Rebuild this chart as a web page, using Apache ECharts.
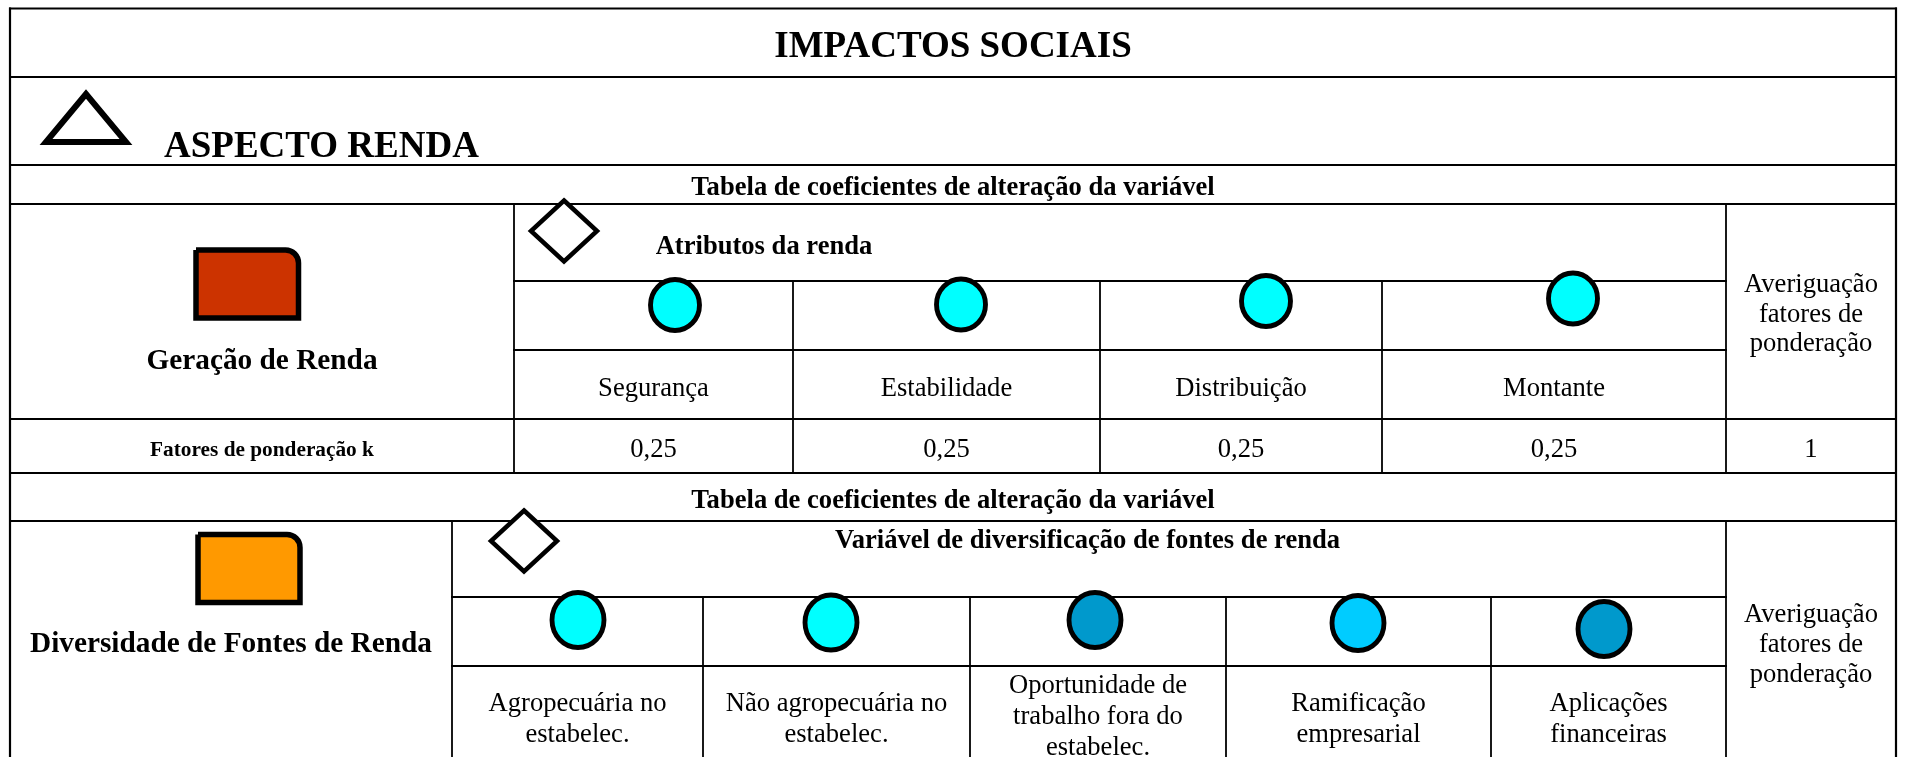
<!DOCTYPE html>
<html>
<head>
<meta charset="utf-8">
<script src="https://cdn.jsdelivr.net/npm/echarts@6/dist/echarts.min.js"></script>
<style>
html, body { margin: 0; padding: 0; background: #ffffff; }
#chart { width: 1906px; height: 757px; }
</style>
</head>
<body>
<div id="chart"></div>
<script>
// ---------------- DATA ----------------
const chartTitle = 'IMPACTOS SOCIAIS';
const aspectTitle = 'ASPECTO RENDA';
const tableCaption = 'Tabela de coeficientes de alteração da variável';
const checkCaption = 'Averiguação\nfatores de\nponderação';
const weightCaption = 'Fatores de ponderação k';

const incomeVariable = 'Geração de Renda';
const incomeGroup = 'Atributos da renda';
const incomeAttributes = ['Segurança', 'Estabilidade', 'Distribuição', 'Montante'];
const incomeWeights = [0.25, 0.25, 0.25, 0.25];
const incomeLevels = ['cyan', 'cyan', 'cyan', 'cyan'];

const sourcesVariable = 'Diversidade de Fontes de Renda';
const sourcesGroup = 'Variável de diversificação de fontes de renda';
const sourcesAttributes = [
  'Agropecuária no\nestabelec.',
  'Não agropecuária no\nestabelec.',
  'Oportunidade de\ntrabalho fora do\nestabelec.',
  'Ramificação\nempresarial',
  'Aplicações\nfinanceiras'
];
const sourcesLevels = ['cyan', 'cyan', 'blue', 'sky', 'blue'];

// ---------------- STYLE ----------------
const levelColors = { cyan: '#00FFFF', sky: '#00CCFF', blue: '#0099CC' };
const incomeColor = '#CC3300';
const sourcesColor = '#FF9900';
const FONT = '"Liberation Serif", "Times New Roman", serif';

// ---------------- LAYOUT (pixel-space axis units) ----------------
const W = 1906, H = 757;
const XL = 10, XR = 1896;
const Y = { top: 8.5, title: 77, aspect: 165, cap1: 204, t1a: 281, t1b: 350, t1c: 419, t1d: 473,
            cap2: 521, t2a: 597, t2b: 666, bottom: 760 };
const T1 = [514, 793, 1100, 1382, 1726];          // column edges, table 1
const T2 = [452, 703, 970, 1226, 1491, 1726];     // column edges, table 2
const circle1X = [675, 961, 1266, 1573], circle1Y = [305, 304.5, 301, 298.5];
const circle2X = [578, 831, 1095, 1358, 1604], circle2Y = [620, 622.5, 620, 623, 629];
const textDy = 4;

const mid = (a, b) => (a + b) / 2;
const fmt = v => String(v).replace('.', ',');

// rules: [x1, y1, x2, y2, width]
const rules = [];
[Y.top, Y.title, Y.aspect, Y.cap1, Y.t1c, Y.t1d, Y.cap2].forEach(y => rules.push([XL, y, XR, y, 2]));
[Y.t1a, Y.t1b].forEach(y => rules.push([T1[0], y, T1[T1.length - 1], y, 2]));
[Y.t2a, Y.t2b].forEach(y => rules.push([T2[0], y, T2[T2.length - 1], y, 2]));
rules.push([XL, Y.top, XL, Y.bottom, 2.2]);
rules.push([XR, Y.top, XR, Y.bottom, 2.2]);
rules.push([T1[0], Y.cap1, T1[0], Y.t1d, 1.8]);
rules.push([T1[T1.length - 1], Y.cap1, T1[T1.length - 1], Y.t1d, 1.8]);
T1.slice(1, -1).forEach(x => rules.push([x, Y.t1a, x, Y.t1d, 1.8]));
rules.push([T2[0], Y.cap2, T2[0], Y.bottom, 1.8]);
rules.push([T2[T2.length - 1], Y.cap2, T2[T2.length - 1], Y.bottom, 1.8]);
T2.slice(1, -1).forEach(x => rules.push([x, Y.t2a, x, Y.bottom, 1.8]));

// texts
const checkX = mid(T1[T1.length - 1], XR);
const texts = [];
function addText(t, x, y, size, weight, align, lh) {
  texts.push({ t, x, y: y + textDy, size, weight: weight || 'normal', align: align || 'center', lh: lh || Math.round(size * 1.15) });
}
addText(chartTitle, mid(XL, XR), 43, 37, 'bold');
addText(aspectTitle, 164, 143.5, 37, 'bold', 'left');
addText(tableCaption, mid(XL, XR), mid(Y.aspect, Y.cap1), 26.6, 'bold');
addText(incomeVariable, mid(XL, T1[0]), 357, 29.3, 'bold');
addText(incomeGroup, 764, 243, 26.6, 'bold');
incomeAttributes.forEach((a, i) => addText(a, mid(T1[i], T1[i + 1]), 385, 26.6));
addText(weightCaption, mid(XL, T1[0]), mid(Y.t1c, Y.t1d), 21.3, 'bold');
incomeWeights.forEach((w, i) => addText(fmt(w), mid(T1[i], T1[i + 1]), mid(Y.t1c, Y.t1d), 26.6));
addText(fmt(incomeWeights.reduce((s, v) => s + v, 0)), checkX, mid(Y.t1c, Y.t1d), 26.6);
addText(checkCaption, checkX, 311, 26.6, 'normal', 'center', 29.5);
addText(tableCaption, mid(XL, XR), mid(Y.t1d, Y.cap2), 26.6, 'bold');
addText(sourcesVariable, mid(XL, T2[0]), 640, 29.3, 'bold');
addText(sourcesGroup, 1087.5, 537.5, 26.6, 'bold');
sourcesAttributes.forEach((a, i) => {
  const n = a.split('\n').length;
  addText(a, mid(T2[i], T2[i + 1]), n === 3 ? 713.5 : 715.5, 26.6, 'normal', 'center', 31);
});
addText(checkCaption, checkX, 641, 26.6, 'normal', 'center', 30);

// shapes
const shapes = [
  { kind: 'triangle', pts: [[86, 94], [46, 142], [126, 142]] },
  { kind: 'diamond', pts: [[564, 200.5], [597, 231], [564, 261.5], [531, 231]] },
  { kind: 'diamond', pts: [[524, 510.5], [557, 541], [524, 571.5], [491, 541]] },
  { kind: 'box', x: 196, y: 250, w: 102.5, h: 68, fill: incomeColor },
  { kind: 'box', x: 198, y: 534.5, w: 102, h: 68, fill: sourcesColor }
];

// circles
const circles = [];
incomeLevels.forEach((lv, i) => circles.push({ value: [circle1X[i], circle1Y[i]], symbolSize: [49, 51], itemStyle: { color: levelColors[lv] } }));
sourcesLevels.forEach((lv, i) => circles.push({ value: [circle2X[i], circle2Y[i]], symbolSize: [52, 55], itemStyle: { color: levelColors[lv] } }));

// ---------------- CHART ----------------
const chart = echarts.init(document.getElementById('chart'), null, { renderer: 'canvas', width: W, height: H });

const option = {
  backgroundColor: '#ffffff',
  animation: false,
  grid: { left: 0, right: 0, top: 0, bottom: 0 },
  xAxis: { type: 'value', min: 0, max: W, show: false },
  yAxis: { type: 'value', min: 0, max: H, inverse: true, show: false },
  series: [
    {
      type: 'custom', name: 'rules', clip: false, silent: true,
      data: rules,
      renderItem: (params, api) => {
        const p1 = api.coord([api.value(0), api.value(1)]);
        const p2 = api.coord([api.value(2), api.value(3)]);
        return { type: 'line', shape: { x1: p1[0], y1: p1[1], x2: p2[0], y2: p2[1] },
                 style: { stroke: '#000000', lineWidth: api.value(4), lineCap: 'square' } };
      }
    },
    {
      type: 'custom', name: 'shapes', clip: false, silent: true, z: 3,
      data: shapes.map((s, i) => [i]),
      renderItem: (params, api) => {
        const s = shapes[params.dataIndex];
        if (s.kind === 'box') {
          const p = api.coord([s.x, s.y]);
          const q = api.coord([s.x + s.w, s.y + s.h]);
          return { type: 'rect', shape: { x: p[0], y: p[1], width: q[0] - p[0], height: q[1] - p[1], r: [0, 13, 0, 0] },
                   style: { fill: s.fill, stroke: '#000000', lineWidth: 5.5 } };
        }
        const pts = s.pts.map(pt => api.coord(pt));
        return { type: 'polygon', shape: { points: pts },
                 style: { fill: '#ffffff', stroke: '#000000', lineWidth: s.kind === 'triangle' ? 6 : 4.5, lineJoin: 'miter', miterLimit: 10 } };
      }
    },
    {
      type: 'scatter', name: 'circles', symbol: 'circle', silent: true, z: 4,
      itemStyle: { borderColor: '#000000', borderWidth: 5, opacity: 1 },
      data: circles
    },
    {
      type: 'custom', name: 'texts', clip: false, silent: true, z: 5,
      data: texts.map(t => [t.x, t.y]),
      renderItem: (params, api) => {
        const t = texts[params.dataIndex];
        const p = api.coord([api.value(0), api.value(1)]);
        return { type: 'text', x: p[0], y: p[1],
                 style: { text: t.t, fill: '#000000', font: t.weight + ' ' + t.size + 'px ' + FONT,
                          fontFamily: FONT, fontSize: t.size, fontWeight: t.weight,
                          align: t.align, verticalAlign: 'middle', lineHeight: t.lh } };
      }
    }
  ]
};
chart.setOption(option);
</script>
</body>
</html>
